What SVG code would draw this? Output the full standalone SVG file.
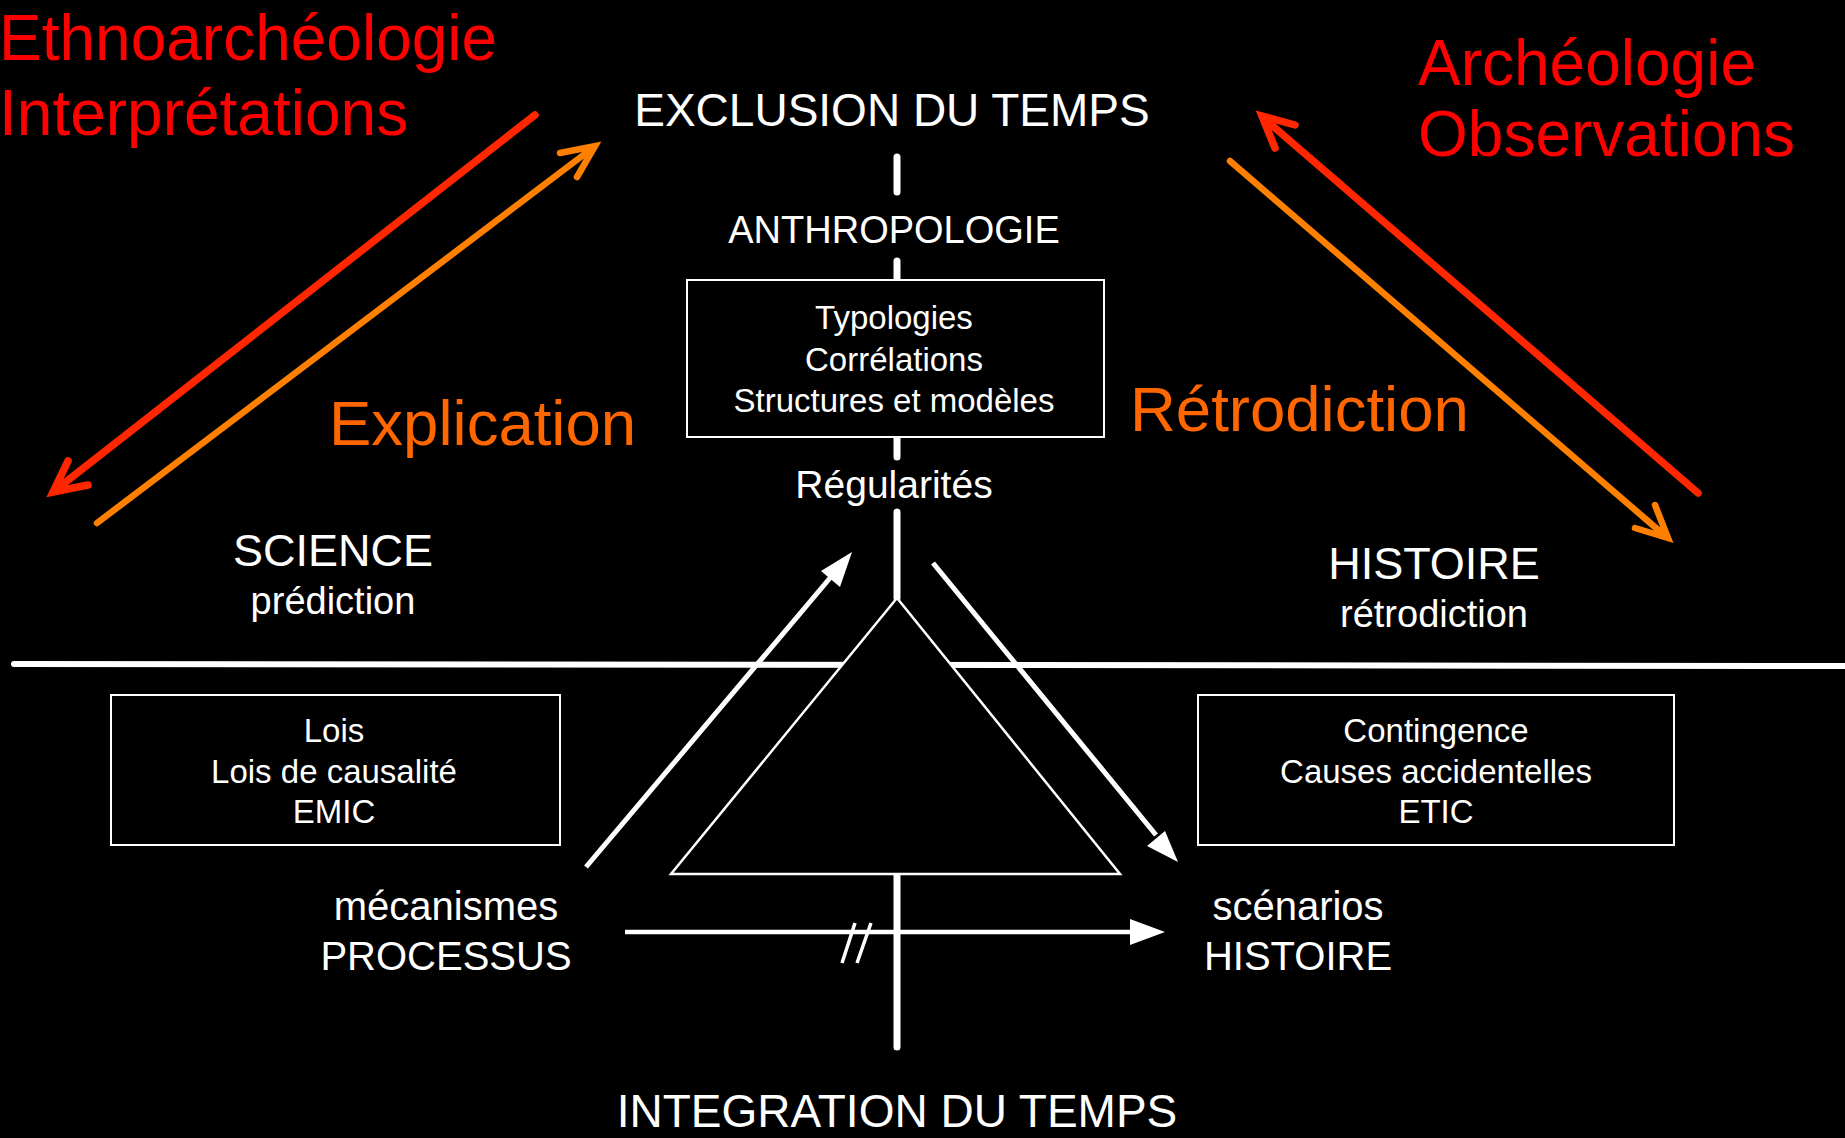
<svg xmlns="http://www.w3.org/2000/svg" width="1845" height="1138" viewBox="0 0 1845 1138">
<style>
text{font-family:"Liberation Sans",Arial,sans-serif;}
.w{fill:#fff;text-anchor:middle;}
.red{fill:#FF0000;font-size:64px;}
.org{fill:#FF6600;font-size:63.5px;}
.box{fill:#000;stroke:#fff;stroke-width:2;}
.axis{stroke:#fff;stroke-width:7;stroke-linecap:round;fill:none;}
.wl{stroke:#fff;stroke-width:5;fill:none;}
.ra{stroke:#FF2600;stroke-width:7.5;stroke-linecap:round;stroke-linejoin:miter;fill:none;}
.oa{stroke:#FF7F00;stroke-width:6.5;stroke-linecap:round;stroke-linejoin:miter;fill:none;}
</style>
<rect width="1845" height="1138" fill="#000"/>

<g id="connectors">
<line id="divider" x1="14" y1="664" x2="1845" y2="666" stroke="#fff" stroke-width="6" stroke-linecap="round"/>
<path class="axis" d="M897,157 V192 M897,261 V280 M897,437 V457 M897,512 V598 M897,874 V1047"/>
<path class="ra" d="M535,115 L58,488 M68,461 L53,492 L88,485"/>
<path class="oa" d="M97,523 L590,150 M560,153 L595,146 L577,177"/>
<path class="ra" d="M1698,493 L1267,121 M1295,125 L1262,116 L1275,148"/>
<path class="oa" d="M1230,161 L1663,534 M1655,505 L1668,538 L1635,528"/>
</g>

<g id="triangle">
<polygon points="897,598 671,874 1120,874" fill="#000" stroke="#fff" stroke-width="2.5"/>
</g>

<g id="white-arrows">
<line class="wl" x1="586" y1="867" x2="830" y2="578"/>
<polygon points="852,552 821,571 840,587" fill="#fff"/>
<line class="wl" x1="933" y1="563" x2="1156" y2="835"/>
<polygon points="1178,862 1147,846 1165,831" fill="#fff"/>
<line x1="625" y1="932" x2="1135" y2="932" stroke="#fff" stroke-width="4.5"/>
<polygon points="1165,932 1130,919 1130,945" fill="#fff"/>
<path d="M842,963 L855,923 M857,963 L871,923" stroke="#fff" stroke-width="3.5" fill="none"/>
</g>

<g id="n-exclusion"><text class="w" x="892" y="126" font-size="46">EXCLUSION DU TEMPS</text></g>
<g id="n-anthropologie"><text class="w" x="894" y="243" font-size="38">ANTHROPOLOGIE</text></g>
<g id="n-typologies">
<rect class="box" x="687" y="280" width="417" height="157"/>
<text class="w" x="894" y="329" font-size="33">Typologies</text>
<text class="w" x="894" y="371" font-size="33">Corrélations</text>
<text class="w" x="894" y="412" font-size="33">Structures et modèles</text>
</g>
<g id="n-regularites"><text class="w" x="894" y="498" font-size="39">Régularités</text></g>
<g id="n-integration"><text class="w" x="897" y="1127" font-size="46">INTEGRATION DU TEMPS</text></g>

<g id="n-science">
<text class="w" x="333" y="566" font-size="45">SCIENCE</text>
<text class="w" x="333" y="614" font-size="38">prédiction</text>
</g>
<g id="n-histoire-top">
<text class="w" x="1434" y="579" font-size="45">HISTOIRE</text>
<text class="w" x="1434" y="627" font-size="38">rétrodiction</text>
</g>

<g id="n-lois">
<rect class="box" x="111" y="695" width="449" height="150"/>
<text class="w" x="334" y="742" font-size="33">Lois</text>
<text class="w" x="334" y="783" font-size="33">Lois de causalité</text>
<text class="w" x="334" y="823" font-size="33">EMIC</text>
</g>
<g id="n-contingence">
<rect class="box" x="1198" y="695" width="476" height="150"/>
<text class="w" x="1436" y="742" font-size="33">Contingence</text>
<text class="w" x="1436" y="783" font-size="33">Causes accidentelles</text>
<text class="w" x="1436" y="823" font-size="33">ETIC</text>
</g>

<g id="n-processus">
<text class="w" x="446" y="920" font-size="40">mécanismes</text>
<text class="w" x="446" y="970" font-size="40">PROCESSUS</text>
</g>
<g id="n-scenarios">
<text class="w" x="1298" y="920" font-size="40">scénarios</text>
<text class="w" x="1298" y="970" font-size="40">HISTOIRE</text>
</g>

<g id="n-ethno">
<text class="red" x="-1" y="60">Ethnoarchéologie</text>
<text class="red" x="-1" y="135">Interprétations</text>
</g>
<g id="n-archeo">
<text class="red" x="1418" y="85">Archéologie</text>
<text class="red" x="1418" y="156">Observations</text>
</g>
<g id="n-explication"><text class="org" x="329" y="445">Explication</text></g>
<g id="n-retrodiction"><text class="org" x="1130" y="431">Rétrodiction</text></g>
</svg>
